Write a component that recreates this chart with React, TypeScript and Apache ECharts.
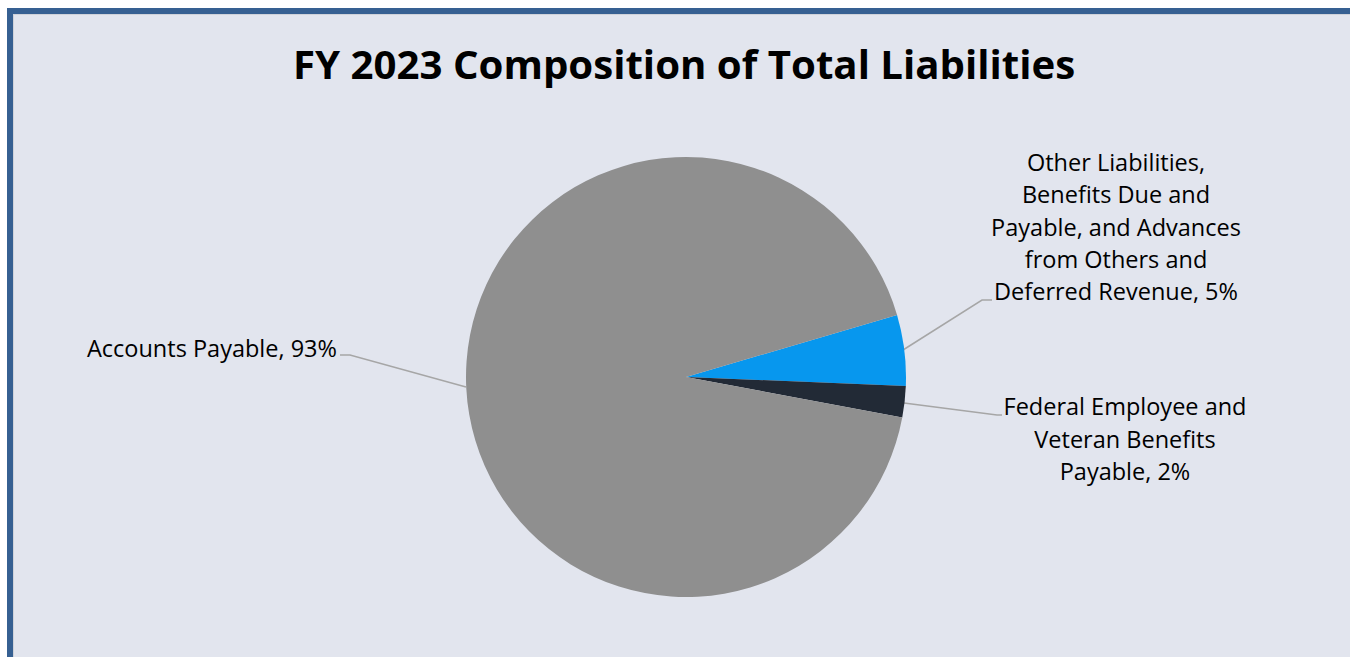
import React, { useEffect, useRef } from "react";
import * as echarts from "echarts";

// ---- data ----
const title = "FY 2023 Composition of Total Liabilities";
const labelNames = [
  "Other Liabilities,\nBenefits Due and\nPayable, and Advances\nfrom Others and\nDeferred Revenue",
  "Federal Employee and\nVeteran Benefits\nPayable",
  "Accounts Payable",
];
const seriesNames = [
  "Other Liabilities, Benefits Due and Payable, and Advances from Others and Deferred Revenue",
  "Federal Employee and Veteran Benefits Payable",
  "Accounts Payable",
];
const values = [5.2, 2.3, 92.5];
const colors = ["#0797ee", "#222a36", "#8f8f8f"];

// ---- label placement (layout only) ----
const labelAnchors: [number, number, string][] = [
  [1116, 226.5, "center"],
  [1125, 438.5, "center"],
  [337, 348, "right"],
];
const labelLines: number[][][] = [
  [[903, 350], [982, 300], [992, 300]],
  [[904, 403], [997, 415], [1002, 415]],
  [[466, 387], [350, 355], [340, 355]],
];

export default function App() {
  const ref = useRef<HTMLDivElement>(null);
  useEffect(() => {
    if (!ref.current) return;
    const chart = echarts.init(ref.current, undefined, { renderer: "svg" });
    chart.setOption({
      animation: false,
      backgroundColor: "transparent",
      title: {
        text: title,
        left: 288,
        top: 38,
        textStyle: {
          fontFamily: "Open Sans",
          fontWeight: "bold",
          fontSize: 40.2,
          color: "#000",
        },
      },
      series: [
        {
          type: "pie",
          center: [686, 377],
          radius: 220,
          startAngle: 16.4,
          clockwise: true,
          avoidLabelOverlap: false,
          itemStyle: { borderWidth: 0 },
          data: values.map((v, i) => ({
            value: v,
            name: seriesNames[i],
            itemStyle: { color: colors[i] },
          })),
          label: {
            show: true,
            position: "outside",
            fontFamily: "Open Sans",
            fontSize: 23.5,
            lineHeight: 32.3,
            color: "#000",
            formatter: (p: any) => `${labelNames[p.dataIndex]}, ${Math.round(p.percent)}%`,
          },
          labelLine: {
            show: true,
            lineStyle: { color: "#a6a6a6", width: 1.5 },
          },
          labelLayout: (params: any) => {
            const i = params.dataIndex;
            const a = labelAnchors[i];
            return {
              x: a[0],
              y: a[1],
              align: a[2],
              verticalAlign: "middle",
              labelLinePoints: labelLines[i],
            };
          },
        },
      ],
    });
    return () => chart.dispose();
  }, []);

  return (
    <div style={{ position: "fixed", left: 0, top: 0, width: 1350, height: 657, background: "#ffffff", overflow: "hidden" }}>
      <div
        style={{
          position: "absolute",
          left: 7,
          top: 8,
          width: 1400,
          height: 700,
          background: "#e2e5ee",
          borderLeft: "6px solid #366092",
          borderTop: "6px solid #366092",
          boxSizing: "border-box",
        }}
      >
        <div style={{ position: "absolute", left: 0, top: 0, width: 1400, height: 700, borderLeft: "1px solid #cfd2d9", borderTop: "1px solid #cfd2d9", boxSizing: "border-box" }} />
      </div>
      <div ref={ref} style={{ position: "absolute", left: 0, top: 0, width: 1350, height: 657 }} />
    </div>
  );
}
